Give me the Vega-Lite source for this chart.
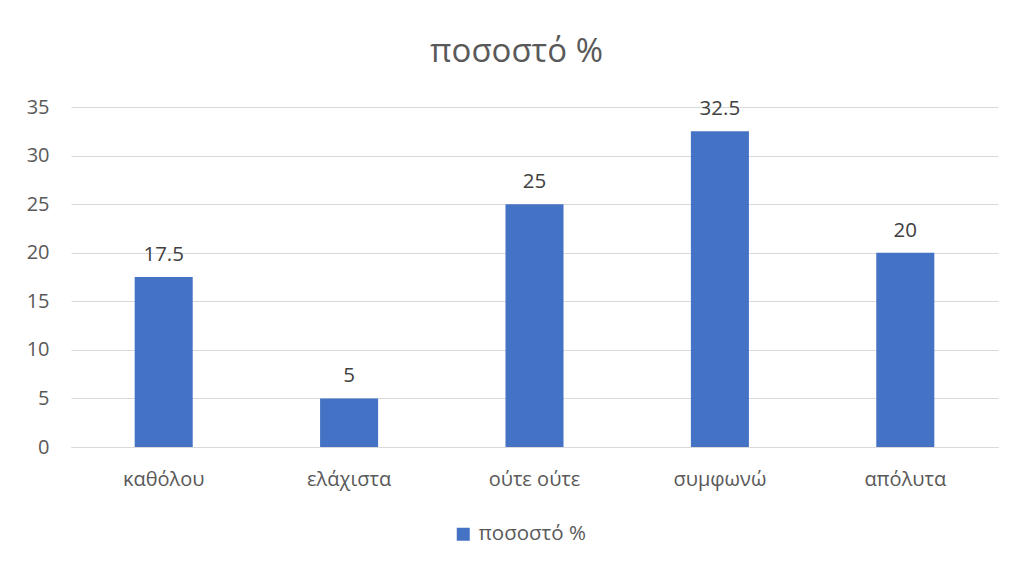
{
  "$schema": "https://vega.github.io/schema/vega-lite/v6.json",
  "autosize": "none",
  "width": 927,
  "height": 340,
  "padding": {"left": 71, "top": 107, "right": 19, "bottom": 118},
  "background": "white",
  "title": {
    "text": "ποσοστό %",
    "fontSize": 33,
    "font": "Open Sans",
    "fontWeight": "normal",
    "color": "#595959",
    "anchor": "middle",
    "dx": -18,
    "offset": 28
  },
  "data": {
    "values": [
      {"category": "καθόλου", "value": 17.5, "series": "ποσοστό %"},
      {"category": "ελάχιστα", "value": 5, "series": "ποσοστό %"},
      {"category": "ούτε ούτε", "value": 25, "series": "ποσοστό %"},
      {"category": "συμφωνώ", "value": 32.5, "series": "ποσοστό %"},
      {"category": "απόλυτα", "value": 20, "series": "ποσοστό %"}
    ]
  },
  "encoding": {
    "x": {
      "field": "category",
      "type": "nominal",
      "sort": null,
      "title": null,
      "scale": {"paddingInner": 0.687, "paddingOuter": 0.3435},
      "axis": {
        "labelAngle": 0,
        "labelFontSize": 20,
        "labelFont": "Open Sans",
        "labelColor": "#595959",
        "labelPadding": 22,
        "ticks": false,
        "domain": true,
        "domainColor": "#d9d9d9",
        "domainWidth": 1
      }
    },
    "y": {
      "field": "value",
      "type": "quantitative",
      "title": null,
      "scale": {"domain": [0, 35], "nice": false},
      "axis": {
        "values": [0, 5, 10, 15, 20, 25, 30, 35],
        "labelFontSize": 20,
        "labelFont": "Open Sans",
        "labelColor": "#595959",
        "labelPadding": 22,
        "ticks": false,
        "domain": false,
        "gridColor": "#d9d9d9",
        "gridWidth": 1
      }
    }
  },
  "layer": [
    {
      "mark": {"type": "bar"},
      "encoding": {
        "color": {
          "field": "series",
          "type": "nominal",
          "scale": {"range": ["#4472C4"]},
          "legend": {
            "title": null,
            "orient": "none",
            "legendX": 382,
            "legendY": 417,
            "padding": 0,
            "symbolType": "square",
            "symbolSize": 169,
            "symbolStrokeWidth": 0,
            "labelFontSize": 20.5,
            "labelFont": "Open Sans",
            "labelColor": "#595959",
            "labelOffset": 5
          }
        }
      }
    },
    {
      "mark": {
        "type": "text",
        "baseline": "bottom",
        "dy": -12,
        "fontSize": 20.5,
        "font": "Open Sans",
        "color": "#404040"
      },
      "encoding": {
        "text": {"field": "value", "type": "quantitative"}
      }
    }
  ],
  "config": {
    "view": {"stroke": null}
  }
}
